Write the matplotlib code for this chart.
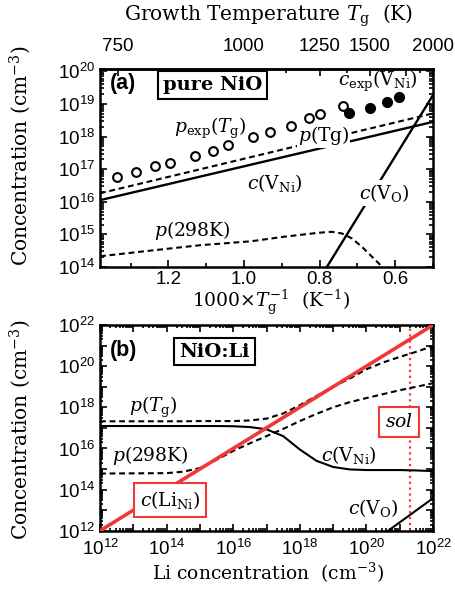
import numpy as np
import matplotlib
matplotlib.use("Agg")
import matplotlib.pyplot as plt
from matplotlib.ticker import LogLocator, NullFormatter, FixedLocator

plt.rcParams.update({
    "font.family": "DejaVu Serif",
    "mathtext.fontset": "custom",
    "mathtext.rm": "DejaVu Serif",
    "mathtext.it": "DejaVu Serif:italic",
    "mathtext.bf": "DejaVu Serif:bold",
    "mathtext.sf": "Liberation Sans",
})

# ---------------- Panel (a): pure NiO (x = 1000/Tg, y = log10 concentration) ----
pexp_invT = [1.336, 1.285, 1.235, 1.195, 1.131, 1.081, 1.043, 0.977, 0.931,
             0.875, 0.827, 0.800, 0.737]
pexp_log = [16.77, 16.90, 17.10, 17.19, 17.41, 17.56, 17.74, 17.99, 18.15,
            18.33, 18.56, 18.68, 18.94]
cexp_invT = [0.723, 0.666, 0.621, 0.589]
cexp_log = [18.71, 18.88, 19.07, 19.22]

line_invT = [1.381, 0.5]
cVNi_a_log = [16.05, 18.45]
pTg_a_log = [16.26, 18.71]
cVO_a_invT = [0.79, 0.5]
cVO_a_log = [13.83, 19.27]
p298_a_invT = [1.381, 1.25, 1.115, 0.981, 0.893, 0.803, 0.768, 0.741, 0.715,
               0.688, 0.661, 0.639, 0.625]
p298_a_log = [14.33, 14.50, 14.67, 14.79, 14.93, 15.05, 15.08, 15.03, 14.88,
              14.62, 14.31, 14.06, 13.85]

Tg_major = [750, 1000, 1250, 1500, 1750, 2000]
Tg_major_labels = ["750", "1000", "1250", "1500", "", "2000"]
Tg_minor = [875, 1125, 1375, 1625, 1875]
invT_major = [1.2, 1.0, 0.8, 0.6]
invT_minor = [1.3, 1.1, 0.9, 0.7, 0.5]

# ---------------- Panel (b): NiO:Li (x = log10 Li, y = log10 concentration) ----
li_log = [12, 14, 14.5, 15, 15.5, 16, 16.5, 17, 17.5, 18, 18.5, 19, 19.5,
          20, 20.5, 21, 21.5, 22]
pTg_b_log = [17.32, 17.32, 17.32, 17.33, 17.33, 17.33, 17.36, 17.45, 17.70,
             18.10, 18.55, 19.00, 19.40, 19.85, 20.18, 20.45, 20.70, 20.98]
p298_b_log = [14.78, 14.80, 14.87, 15.05, 15.45, 15.88, 16.25, 16.60, 16.95,
              17.33, 17.68, 18.00, 18.25, 18.45, 18.64, 18.83, 19.00, 19.17]
cVNi_b_log = [17.09, 17.09, 17.09, 17.09, 17.09, 17.08, 17.04, 16.93, 16.60,
              15.95, 15.40, 15.10, 14.98, 14.95, 14.95, 14.95, 14.93, 14.90]
cLi_log = [12, 22]
cVO_b_li = [20.5, 22]
cVO_b_log = [11.82, 13.58]
sol_li = 21.3

RED = "#f03838"

fig = plt.figure(figsize=(4.56, 5.93), dpi=100)
axa = fig.add_axes([0.2193, 0.5497, 0.7303, 0.3339])
axb = fig.add_axes([0.2193, 0.1050, 0.7303, 0.3469])

tickfont = {"family": "Liberation Sans", "size": 13.5}
TS = 13.5   # in-plot text size
LS = 14.5   # axis label size
DASH = (2.8, 1.8)


def p10(v):
    return 10.0 ** np.asarray(v, dtype=float)


def sup(e):
    return r"$\mathsf{10^{%d}}$" % e


# ---- panel a
axa.set_yscale("log")
axa.plot(line_invT, p10(cVNi_a_log), "k-", lw=1.7, zorder=3)
axa.plot(line_invT, p10(pTg_a_log), "k--", lw=1.5, dashes=DASH, zorder=3)
axa.plot(cVO_a_invT, p10(cVO_a_log), "k-", lw=1.7, zorder=3)
axa.plot(p298_a_invT, p10(p298_a_log), "k--", lw=1.5, dashes=DASH, zorder=3)
axa.plot(pexp_invT, p10(pexp_log), "o", ms=6.3, mfc="white", mec="k", mew=1.5, zorder=4)
axa.plot(cexp_invT, p10(cexp_log), "o", ms=7, mfc="k", mec="k", zorder=4)
axa.set_xlim(1.381, 0.5)
axa.set_ylim(1e14, 10 ** 20.07)

axa.set_yticks(p10(range(14, 21)))
axa.set_yticklabels([sup(e) for e in range(14, 21)], fontsize=13.5)
axa.yaxis.set_minor_locator(LogLocator(base=10, subs=np.arange(2, 10), numticks=100))
axa.yaxis.set_minor_formatter(NullFormatter())
axa.set_xticks(invT_major)
axa.set_xticklabels(["%.1f" % v for v in invT_major], fontdict=tickfont)
axa.xaxis.set_minor_locator(FixedLocator(invT_minor))
axa.tick_params(which="both", direction="in", top=False, right=True, width=1.2)
axa.tick_params(which="major", length=5)
axa.tick_params(which="minor", length=3)
axa.tick_params(axis="x", which="major", pad=3)


def inv(x):
    x = np.asarray(x, dtype=float)
    with np.errstate(divide="ignore"):
        return 1000.0 / x


sec = axa.secondary_xaxis("top", functions=(inv, inv))
sec.set_xticks(Tg_major)
sec.set_xticklabels(Tg_major_labels, fontdict=tickfont)
sec.xaxis.set_minor_locator(FixedLocator(Tg_minor))
sec.tick_params(which="both", direction="in", width=1.2)
sec.tick_params(which="major", length=5, pad=10)
sec.tick_params(which="minor", length=3)
fig.text(269 / 456, 1 - 16 / 593, r"Growth Temperature $T_\mathrm{g}$  (K)",
         ha="center", va="center", fontsize=LS)

axa.set_xlabel(r"1000$\times T_\mathrm{g}^{-1}$  (K$^{-1}$)", fontsize=TS)
axa.xaxis.set_label_coords(0.514, -0.18)
axa.xaxis.label.set_va("center")
axa.set_ylabel(r"Concentration (cm$^{-3}$)", fontsize=LS)
axa.yaxis.set_label_coords(-0.24, 0.56)
axa.yaxis.label.set_va("center")

for sp in list(axa.spines.values()) + list(sec.spines.values()):
    sp.set_linewidth(1.8)

axa.text(0.03, 0.929, "(a)", transform=axa.transAxes, ha="left", va="center",
         fontsize=15.5, fontweight="bold", family="Liberation Sans")
axa.text(0.339, 0.919, "pure NiO", transform=axa.transAxes, ha="center", va="center",
         fontsize=14, fontweight="bold", zorder=6,
         bbox=dict(boxstyle="square,pad=0.25", fc="white", ec="k", lw=1.5))
axa.text(0.833, 0.935, r"$c_\mathrm{exp}(\mathrm{V_{Ni}})$", transform=axa.transAxes,
         ha="center", va="center", fontsize=TS, zorder=6)
axa.text(0.33, 0.702, r"$p_\mathrm{exp}(T_\mathrm{g})$", transform=axa.transAxes,
         ha="center", va="center", fontsize=TS, zorder=6)
axa.text(0.671, 0.662, r"$p(\mathrm{Tg})$", transform=axa.transAxes,
         ha="center", va="center", fontsize=TS, zorder=6,
         bbox=dict(boxstyle="square,pad=0.05", fc="white", ec="none"))
axa.text(0.526, 0.424, r"$c(\mathrm{V_{Ni}})$", transform=axa.transAxes,
         ha="center", va="center", fontsize=TS, zorder=6)
axa.text(0.853, 0.374, r"$c(\mathrm{V_{O}})$", transform=axa.transAxes,
         ha="center", va="center", fontsize=TS, zorder=6,
         bbox=dict(boxstyle="square,pad=0.1", fc="white", ec="none"))
axa.text(0.276, 0.187, r"$p(\mathrm{298K})$", transform=axa.transAxes,
         ha="center", va="center", fontsize=TS, zorder=6)

# ---- panel b
axb.set_xscale("log")
axb.set_yscale("log")
axb.plot(p10(li_log), p10(pTg_b_log), "k--", lw=1.5, dashes=DASH, zorder=3)
axb.plot(p10(li_log), p10(p298_b_log), "k--", lw=1.5, dashes=DASH, zorder=3)
axb.plot(p10(li_log), p10(cVNi_b_log), "k-", lw=1.5, zorder=3)
axb.plot(p10(cVO_b_li), p10(cVO_b_log), "k-", lw=1.5, zorder=3)
axb.plot(p10(cLi_log), p10(cLi_log), "-", color=RED, lw=2.6, zorder=4)
axb.axvline(10 ** sol_li, color=RED, ls=":", lw=1.6, zorder=2)
axb.set_xlim(1e12, 1e22)
axb.set_ylim(1e12, 1e22)

dec = list(range(12, 23))
axb.set_xticks(p10(dec))
axb.set_xticklabels([sup(e) if e % 2 == 0 else "" for e in dec], fontsize=13.5)
axb.set_yticks(p10(dec))
axb.set_yticklabels([sup(e) if e % 2 == 0 else "" for e in dec], fontsize=13.5)
for axis in (axb.xaxis, axb.yaxis):
    axis.set_minor_locator(LogLocator(base=10, subs=np.arange(2, 10), numticks=100))
    axis.set_minor_formatter(NullFormatter())
axb.tick_params(which="both", direction="in", top=True, right=True, width=1.2)
axb.tick_params(which="major", length=5)
axb.tick_params(which="minor", length=2.5)
axb.tick_params(axis="x", which="major", pad=6)
for sp in axb.spines.values():
    sp.set_linewidth(1.8)

axb.set_xlabel(r"Li concentration  (cm$^{-3}$)", fontsize=TS)
axb.xaxis.set_label_coords(0.504, -0.206)
axb.xaxis.label.set_va("center")
axb.set_ylabel(r"Concentration (cm$^{-3}$)", fontsize=LS)
axb.yaxis.set_label_coords(-0.24, 0.49)
axb.yaxis.label.set_va("center")

axb.text(0.03, 0.878, "(b)", transform=axb.transAxes, ha="left", va="center",
         fontsize=15.5, fontweight="bold", family="Liberation Sans")
axb.text(0.344, 0.871, "NiO:Li", transform=axb.transAxes, ha="center", va="center",
         fontsize=14, fontweight="bold", zorder=6,
         bbox=dict(boxstyle="square,pad=0.25", fc="white", ec="k", lw=1.5))
axb.text(0.898, 0.528, r"$sol$", transform=axb.transAxes, ha="center", va="center",
         fontsize=TS, zorder=6,
         bbox=dict(boxstyle="square,pad=0.3", fc="white", ec=RED, lw=1.5))
axb.text(0.159, 0.601, r"$p(T_\mathrm{g})$", transform=axb.transAxes,
         ha="center", va="center", fontsize=TS, zorder=6)
axb.text(0.15, 0.368, r"$p(\mathrm{298K})$", transform=axb.transAxes,
         ha="center", va="center", fontsize=TS, zorder=6)
axb.text(0.748, 0.368, r"$c(\mathrm{V_{Ni}})$", transform=axb.transAxes,
         ha="center", va="center", fontsize=TS, zorder=6)
axb.text(0.21, 0.149, r"$c(\mathrm{Li_{Ni}})$", transform=axb.transAxes,
         ha="center", va="center", fontsize=TS, zorder=6,
         bbox=dict(boxstyle="square,pad=0.3", fc="white", ec=RED, lw=1.5))
axb.text(0.82, 0.110, r"$c(\mathrm{V_{O}})$", transform=axb.transAxes,
         ha="center", va="center", fontsize=TS, zorder=6)

fig.savefig("out.png", dpi=100)
